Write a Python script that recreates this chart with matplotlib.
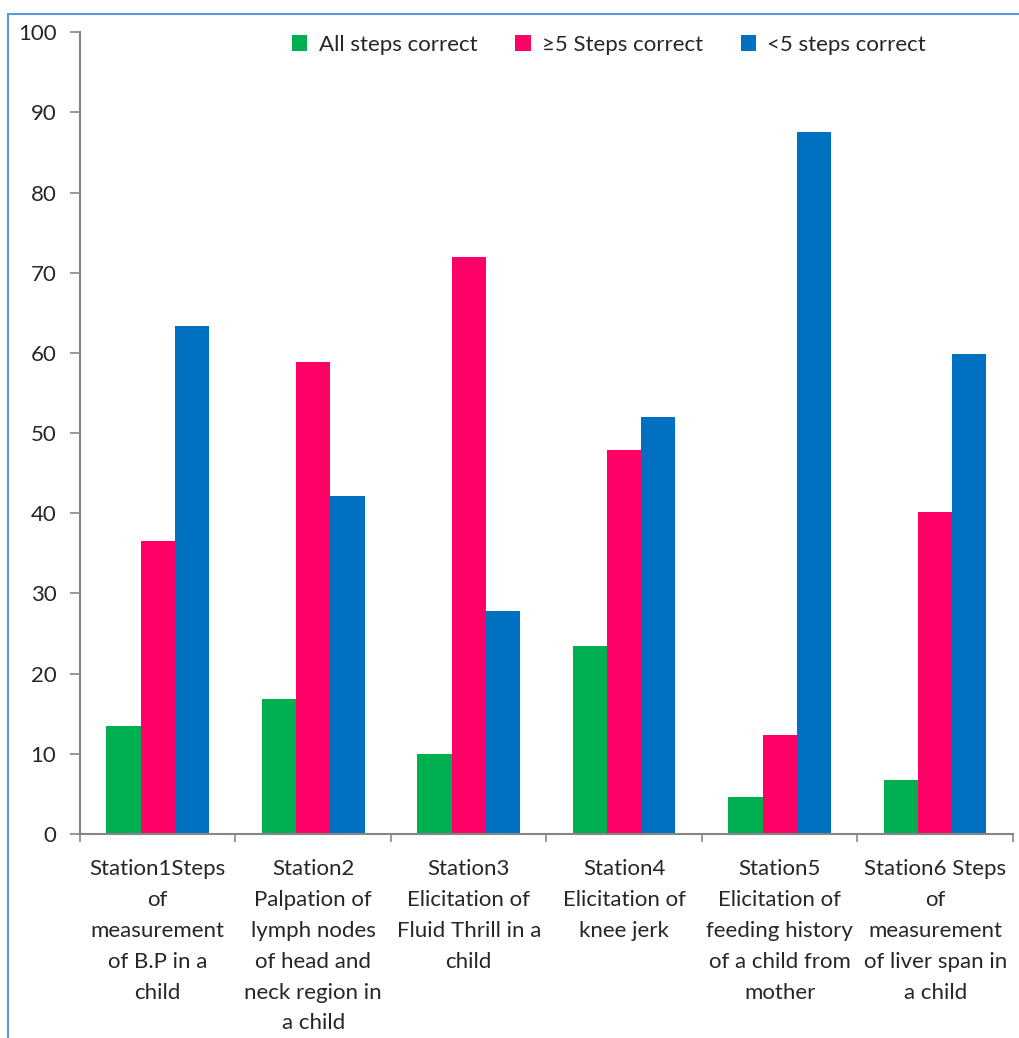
import numpy as np
import matplotlib
matplotlib.use("Agg")
import matplotlib.pyplot as plt
from matplotlib.patches import Rectangle

plt.rcParams["font.family"] = ["Lato", "DejaVu Sans"]

stations = [
    "Station1Steps\nof\nmeasurement\nof B.P in a\nchild",
    "Station2\nPalpation of\nlymph nodes\nof head and\nneck region in\na child",
    "Station3\nElicitation of\nFluid Thrill in a\nchild",
    "Station4\nElicitation of\nknee jerk",
    "Station5\nElicitation of\nfeeding history\nof a child from\nmother",
    "Station6 Steps\nof\nmeasurement\nof liver span in\na child",
]
all_correct = [13.5, 16.8, 10.0, 23.4, 4.6, 6.7]
five_plus = [36.6, 58.9, 72.0, 47.9, 12.4, 40.1]
under_five = [63.4, 42.2, 27.8, 52.0, 87.5, 59.9]

series = [
    ("All steps correct", all_correct, "#00B050"),
    ("\u22655 Steps correct", five_plus, "#FF0066"),
    ("<5 steps correct", under_five, "#0070C0"),
]

fig = plt.figure(figsize=(10.19, 10.38), dpi=100)
ax = fig.add_axes([0.0785, 0.1965, 0.9155, 0.7725])

x = np.arange(len(stations)) + 0.5
w = 0.22
for i, (name, vals, col) in enumerate(series):
    ax.bar(x + (i - 1) * w, vals, w, color=col, label=name, zorder=2)

axis_col = "#868686"
txt_col = "#262626"
ax.set_xlim(0, len(stations))
ax.set_ylim(0, 100)
ax.set_yticks(np.arange(0, 101, 10))
ax.set_xticks(np.arange(len(stations) + 1))
ax.set_xticklabels([])
ax.set_xticks(x, minor=True)
ax.set_xticklabels(stations, minor=True, fontsize=16, color=txt_col, linespacing=1.68)
ax.tick_params(axis="x", which="minor", length=0, pad=18)
ax.tick_params(axis="x", which="major", length=6, color=axis_col, width=1.2)
ax.tick_params(axis="y", length=7, color=axis_col, width=1.2, labelsize=16,
               labelcolor=txt_col, pad=10)
for s in ["top", "right"]:
    ax.spines[s].set_visible(False)
for s in ["left", "bottom"]:
    ax.spines[s].set_color(axis_col)
    ax.spines[s].set_linewidth(1.5)

ax.legend(loc="upper center", bbox_to_anchor=(0.567, 1.022), ncol=3, frameon=False,
          fontsize=16, handlelength=0.7, handleheight=0.7, handletextpad=0.5,
          columnspacing=1.7, labelcolor=txt_col)

# outer chart frame
fig.patches.append(Rectangle((8 / 1019, -0.05), 1.2, 1.05 - 14 / 1038,
                             transform=fig.transFigure, fill=False,
                             edgecolor="#5B9BD5", linewidth=1.5))

fig.savefig("out.png", dpi=100)
